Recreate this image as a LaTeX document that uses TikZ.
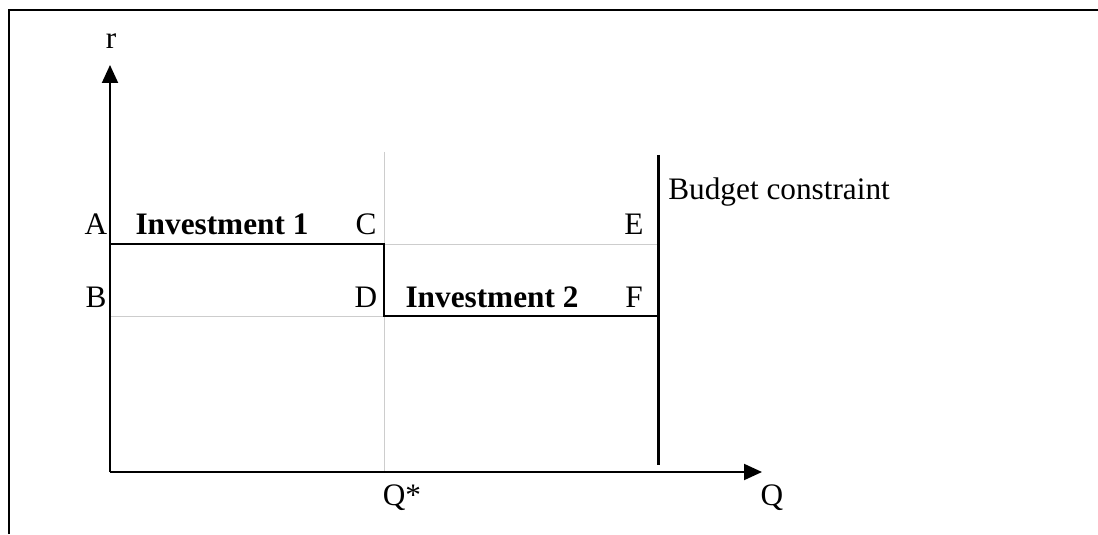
\documentclass[tikz,border=0pt]{standalone}
\usepackage{fontspec}
\setmainfont{Liberation Serif}
\usetikzlibrary{arrows.meta}
\definecolor{gridgrey}{RGB}{205,205,205}
\tikzset{
  axisline/.style = {line width=1.1pt, -{Triangle[length=0.36cm, width=0.32cm]}},
  stepline/.style = {line width=1.1pt},
  budgetline/.style = {line width=1.7pt},
  guideline/.style = {draw=gridgrey, line width=0.5pt},
  ptlabel/.style = {anchor=base, inner sep=0pt, font=\fontsize{17.8}{20}\selectfont},
  invlabel/.style = {ptlabel, font=\fontsize{17.8}{20}\selectfont\bfseries}
}

\begin{document}
\begin{tikzpicture}[x=0.02cm, y=0.02cm]
\useasboundingbox (0,0) rectangle (1098,534);
\draw[line width=1.1pt] (9,0) -- (9,524) -- (1098,524);

% axes and points
\coordinate (O) at (110,62);
\coordinate (rtip) at (110,469);
\coordinate (qtip) at (762,62);
\coordinate (a) at (110,290);
\coordinate (b) at (110,218);
\coordinate (c) at (384,290);
\coordinate (d) at (384,218);
\coordinate (e) at (658,290);
\coordinate (f) at (658,218);
\coordinate (qtop) at (384,382);
\coordinate (qbot) at (384,62);
\coordinate (btop) at (658,379);
\coordinate (bbot) at (658,69);

% guides
\draw[guideline] (qtop) -- (qbot);
\draw[guideline] (c) -- (e);
\draw[guideline] (b) -- (d);

\draw[axisline] (O) -- (rtip);
\draw[axisline] (O) -- (qtip);

\draw[stepline] (a) -- (c) -- (d) -- (f);
\draw[budgetline] (btop) -- (bbot);

\node[ptlabel] (rlab) at (111,485) {r};
\node[ptlabel] (qlab) at (772,29) {Q};
\node[ptlabel] (qstar) at (402,29) {Q*};
\node[ptlabel] (alab) at (96,299) {A};
\node[ptlabel] (blab) at (96,226) {B};
\node[ptlabel] (clab) at (366,299) {C};
\node[ptlabel] (dlab) at (366,226) {D};
\node[ptlabel] (elab) at (634,299) {E};
\node[ptlabel] (flab) at (634,226) {F};
\node[invlabel] (inv1) at (222,299) {Investment 1};
\node[invlabel] (inv2) at (492,226) {Investment 2};
\node[ptlabel, anchor=base west] (budget) at (668,334) {Budget constraint};
\end{tikzpicture}
\end{document}
